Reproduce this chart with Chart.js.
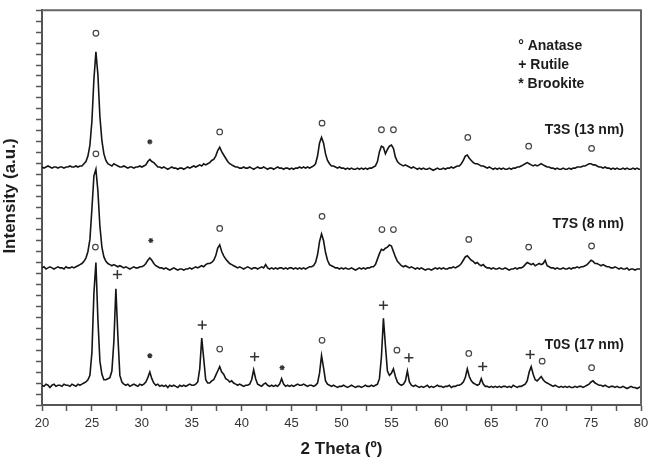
<!DOCTYPE html>
<html>
<head>
<meta charset="utf-8">
<script src="https://cdn.jsdelivr.net/npm/chart.js@4.4.1/dist/chart.umd.min.js"></script>
<style>
  html, body { margin: 0; padding: 0; background: #fff; }
  canvas { display: block; }
</style>
</head>
<body>
<canvas id="xrd" width="654" height="458"></canvas>
<script>
// 2 theta grid: 20..80 deg, 0.2 deg step
const thetaStart = 20;
const thetaStep = 0.2;

// raw intensities (a.u.)
const t0s = [
  18, 17, 19, 18, 16, 18, 19, 17, 18, 18,
  17, 19, 18, 18, 17, 19, 18, 17, 19, 18,
  19, 20, 21, 23, 27, 48, 102, 130, 78, 40,
  28, 23, 23, 24, 25, 31, 58, 106, 63, 27,
  21, 19, 18, 19, 17, 18, 19, 18, 17, 19,
  18, 19, 21, 25, 30, 24, 20, 18, 19, 17,
  18, 17, 18, 16, 18, 17, 18, 17, 16, 18,
  17, 18, 17, 18, 19, 18, 18, 19, 21, 33,
  61, 42, 23, 20, 20, 22, 23, 27, 31, 35,
  30, 28, 24, 23, 21, 22, 20, 19, 18, 19,
  18, 17, 18, 18, 19, 23, 32, 24, 19, 18,
  17, 19, 20, 18, 17, 18, 17, 18, 17, 19,
  24, 19, 17, 18, 17, 18, 17, 18, 19, 18,
  18, 19, 18, 17, 18, 18, 17, 18, 20, 29,
  45, 34, 22, 19, 18, 17, 18, 17, 16, 17,
  17, 18, 17, 16, 17, 18, 17, 16, 17, 17,
  16, 17, 18, 17, 17, 18, 17, 18, 19, 24,
  44, 79, 54, 31, 27, 29, 33, 26, 21, 19,
  18, 19, 22, 31, 21, 18, 17, 18, 17, 16,
  17, 16, 17, 18, 16, 17, 16, 17, 18, 17,
  17, 16, 17, 17, 18, 16, 17, 17, 18, 18,
  19, 21, 25, 33, 26, 22, 20, 19, 18, 19,
  24, 19, 17, 17, 16, 17, 16, 17, 16, 17,
  16, 17, 17, 16, 17, 16, 18, 17, 16, 17,
  17, 18, 19, 22, 30, 35, 28, 23, 22, 24,
  26, 23, 21, 20, 19, 18, 17, 18, 17, 16,
  17, 16, 17, 16, 17, 16, 16, 17, 16, 17,
  17, 16, 17, 18, 19, 21, 22, 20, 19, 18,
  18, 17, 18, 17, 16, 17, 17, 16, 17, 16,
  16, 17, 16, 15, 16, 17, 16, 16, 15, 16,
  17
];
const t7s = [
  18, 19, 17, 18, 19, 18, 17, 18, 19, 18,
  18, 17, 19, 18, 18, 19, 18, 19, 20, 21,
  22, 24, 27, 33, 44, 72, 102, 108, 88, 56,
  37, 28, 24, 22, 21, 20, 21, 20, 19, 20,
  19, 18, 19, 18, 17, 18, 19, 18, 18, 19,
  19, 20, 22, 25, 27, 25, 22, 20, 19, 18,
  18, 17, 18, 17, 16, 17, 18, 17, 16, 17,
  17, 16, 17, 17, 18, 17, 18, 19, 18, 19,
  20, 19, 21, 22, 22, 23, 25, 29, 36, 39,
  33, 29, 26, 24, 22, 21, 20, 19, 18, 19,
  18, 17, 18, 19, 18, 17, 18, 18, 17, 18,
  19, 18, 21, 18, 17, 18, 17, 18, 17, 18,
  18, 17, 18, 17, 18, 18, 17, 18, 17, 18,
  17, 18, 17, 18, 19, 19, 20, 23, 30, 42,
  49, 43, 32, 25, 21, 20, 19, 18, 18, 17,
  18, 17, 18, 17, 17, 18, 17, 16, 17, 18,
  17, 18, 17, 18, 18, 19, 19, 21, 26, 31,
  35, 34, 36, 37, 39, 38, 33, 28, 24, 22,
  20, 19, 20, 19, 18, 19, 18, 17, 18, 17,
  18, 17, 16, 17, 17, 16, 17, 18, 17, 18,
  17, 18, 17, 17, 18, 18, 19, 18, 19, 20,
  22, 25, 28, 29, 27, 25, 24, 22, 23, 21,
  20, 21, 19, 18, 18, 17, 18, 17, 17, 18,
  17, 17, 18, 17, 16, 17, 17, 18, 17, 18,
  18, 19, 21, 23, 22, 21, 22, 20, 21, 22,
  21, 22, 25, 20, 19, 18, 18, 17, 18, 17,
  17, 18, 17, 17, 18, 17, 18, 18, 19, 18,
  19, 19, 20, 21, 23, 25, 24, 22, 22, 21,
  20, 21, 20, 19, 19, 18, 18, 19, 18, 17,
  18, 17, 17, 18, 16, 17, 17, 16, 17, 17,
  17
];
const t3s = [
  18, 17, 18, 19, 18, 17, 18, 18, 17, 18,
  18, 17, 18, 18, 19, 18, 18, 19, 18, 19,
  19, 21, 23, 28, 38, 60, 98, 123, 102, 64,
  42, 30, 24, 21, 20, 19, 21, 20, 19, 18,
  18, 19, 18, 17, 18, 18, 17, 18, 18, 19,
  18, 19, 20, 23, 25, 23, 22, 20, 18, 18,
  17, 18, 17, 16, 17, 18, 17, 17, 16, 17,
  17, 16, 17, 18, 17, 18, 19, 18, 19, 20,
  19, 21, 20, 21, 22, 24, 25, 28, 33, 36,
  32, 29, 26, 23, 21, 20, 19, 18, 18, 17,
  17, 18, 17, 17, 18, 17, 16, 17, 18, 17,
  17, 18, 17, 16, 17, 17, 16, 17, 18, 17,
  17, 16, 17, 17, 16, 17, 16, 17, 17, 18,
  17, 18, 17, 18, 17, 18, 19, 21, 28, 40,
  45, 40, 30, 24, 21, 19, 19, 18, 17, 18,
  17, 17, 16, 17, 16, 17, 16, 16, 17, 16,
  17, 16, 17, 16, 17, 17, 18, 19, 23, 32,
  37, 36, 30, 34, 37, 38, 35, 27, 23, 21,
  20, 19, 20, 19, 18, 17, 18, 17, 16, 17,
  16, 17, 16, 16, 17, 16, 15, 16, 17, 16,
  16, 17, 16, 17, 17, 18, 17, 18, 19, 19,
  21, 24, 28, 29, 26, 24, 22, 21, 21, 20,
  19, 19, 18, 17, 18, 17, 16, 17, 16, 17,
  16, 17, 16, 16, 17, 16, 17, 17, 18, 18,
  19, 20, 21, 22, 21, 20, 19, 20, 19, 20,
  21, 20, 19, 18, 18, 17, 17, 16, 17, 16,
  16, 17, 16, 16, 17, 16, 17, 17, 18, 18,
  18, 19, 19, 20, 21, 21, 20, 20, 19, 18,
  18, 17, 18, 17, 17, 16, 17, 16, 17, 16,
  16, 17, 16, 17, 16, 16, 17, 16, 17, 16,
  16
];

const sampleNames = ["T0S (17 nm)", "T7S (8 nm)", "T3S (13 nm)"];
const stackOffsets = [0, 107, 199];

// phase marks (2 theta, stacked intensity)
const anataseX = [25.4, 37.8, 48.05, 54.0, 55.2, 62.65, 68.75, 75.05,
                  25.4, 37.8, 48.05, 54.05, 55.2, 62.75, 68.75, 75.05,
                  25.35, 37.8, 48.05, 55.55, 62.75, 70.1, 75.05];
const anataseY = [339, 249, 257, 251, 251, 244, 236, 234,
                  229, 161, 172, 160, 160, 151, 144, 145,
                  144, 51, 59, 50, 47, 40, 34];
const rutileX = [27.55, 36.05, 41.3, 54.2, 56.75, 64.15, 68.9];
const rutileY = [119, 73, 44, 91, 43, 35, 46];
const brookiteX = [30.8, 30.9, 30.8, 44.05];
const brookiteY = [240, 150, 45, 34];

const legendLines = ["\u00b0 Anatase", "+ Rutile", "* Brookite"];
const xTicksMajor = [20, 25, 30, 35, 40, 45, 50, 55, 60, 65, 70, 75, 80];

const FONT = '"Liberation Sans", Arial, Helvetica, sans-serif';
Chart.defaults.font.family = FONT;

const twoTheta = t0s.map((_, i) => +(thetaStart + i * thetaStep).toFixed(1));
const toPoints = (vals, off) => vals.map((v, i) => ({ x: twoTheta[i], y: v + off }));
const marks = (xs, ys) => xs.map((x, i) => ({ x: x, y: ys[i] }));

const traceStyle = {
  borderColor: "#151515",
  borderWidth: 1.6,
  pointRadius: 0,
  fill: false,
  tension: 0,
};

const overlay = {
  id: "overlay",
  beforeDraw(chart) {
    const ctx = chart.ctx;
    ctx.save();
    ctx.fillStyle = "#fff";
    ctx.fillRect(0, 0, chart.width, chart.height);
    ctx.restore();
  },
  afterDraw(chart) {
    const { ctx, chartArea: a, scales } = chart;
    const x = scales.x, y = scales.y;
    ctx.save();
    // top / right frame
    ctx.strokeStyle = "#666";
    ctx.lineWidth = 2;
    ctx.beginPath();
    ctx.moveTo(a.left, a.top);
    ctx.lineTo(a.right, a.top);
    ctx.lineTo(a.right, a.bottom);
    ctx.stroke();

    // sample names
    ctx.fillStyle = "#1c1c1c";
    ctx.font = "bold 14px " + FONT;
    ctx.textAlign = "right";
    ctx.textBaseline = "middle";
    const nameY = [55, 165, 251];
    sampleNames.forEach((n, i) => ctx.fillText(n, x.getPixelForValue(78.3), y.getPixelForValue(nameY[i])));

    // phase legend
    ctx.textAlign = "left";
    legendLines.forEach((t, i) => ctx.fillText(t, x.getPixelForValue(67.7), a.top + 36 + i * 18.8));

    // axis titles
    ctx.font = "bold 17px " + FONT;
    ctx.textAlign = "center";
    ctx.fillText("2 Theta (\u00ba)", (a.left + a.right) / 2, 449);
    ctx.translate(15, 196);
    ctx.rotate(-Math.PI / 2);
    ctx.textBaseline = "alphabetic";
    ctx.fillText("Intensity (a.u.)", 0, 0);
    ctx.restore();
  },
};

new Chart(document.getElementById("xrd"), {
  type: "line",
  data: {
    datasets: [
      { ...traceStyle, label: sampleNames[0], data: toPoints(t0s, stackOffsets[0]) },
      { ...traceStyle, label: sampleNames[1], data: toPoints(t7s, stackOffsets[1]) },
      { ...traceStyle, label: sampleNames[2], data: toPoints(t3s, stackOffsets[2]) },
      {
        label: "Anatase", data: marks(anataseX, anataseY), showLine: false,
        pointStyle: "circle", pointRadius: 2.8, pointBorderWidth: 1.2,
        pointBorderColor: "#444", pointBackgroundColor: "#fff",
      },
      {
        label: "Rutile", data: marks(rutileX, rutileY), showLine: false,
        pointStyle: "cross", pointRadius: 4.5, pointBorderWidth: 1.5,
        pointBorderColor: "#333", pointBackgroundColor: "#333",
      },
      {
        label: "Brookite", data: marks(brookiteX, brookiteY), showLine: false,
        pointStyle: "star", pointRadius: 2.6, pointBorderWidth: 1.2,
        pointBorderColor: "#333", pointBackgroundColor: "#333",
      },
    ],
  },
  options: {
    responsive: false,
    animation: false,
    devicePixelRatio: 1,
    layout: { padding: { left: 0, right: 13, top: 5, bottom: 0 } },
    plugins: { legend: { display: false }, tooltip: { enabled: false } },
    scales: {
      x: {
        type: "linear",
        min: 20,
        max: 80,
        afterFit(s) { s.height = 53; },
        border: { color: "#555", width: 2 },
        grid: { drawOnChartArea: false, tickLength: 6, tickColor: "#555", tickWidth: 1.5 },
        ticks: {
          stepSize: 2.5,
          autoSkip: false,
          maxRotation: 0,
          padding: 5,
          color: "#333",
          font: { size: 13 },
          callback: (v) => (xTicksMajor.includes(v) ? v : ""),
        },
      },
      y: {
        min: 0,
        max: 360,
        afterFit(s) { s.width = 42; },
        border: { color: "#555", width: 2 },
        grid: { drawOnChartArea: false, tickLength: 6, tickColor: "#555", tickWidth: 1.5 },
        ticks: { stepSize: 10, autoSkip: false, callback: () => "" },
      },
    },
  },
  plugins: [overlay],
});
</script>
</body>
</html>
